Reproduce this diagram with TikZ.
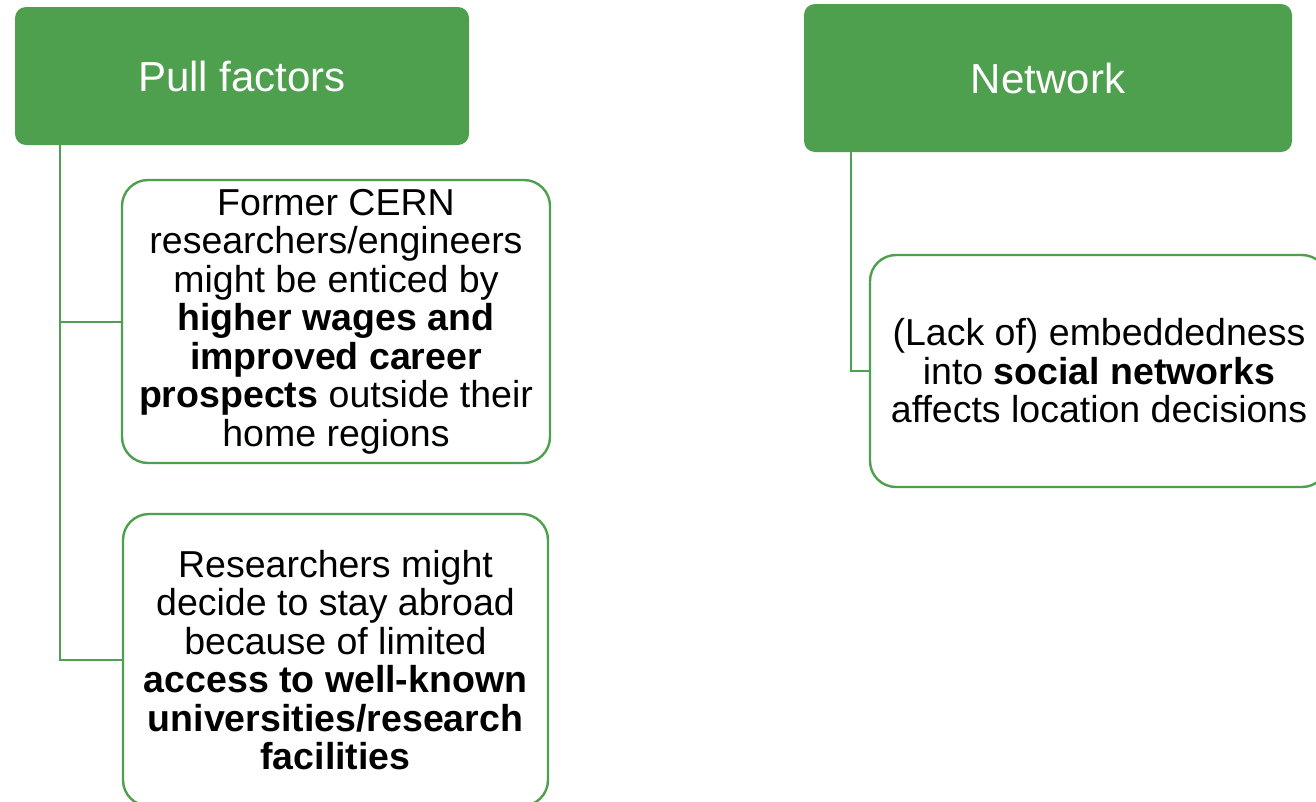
\documentclass[tikz,border=0pt]{standalone}
\usepackage{fontspec}
\setmainfont{Liberation Sans}
\definecolor{grn}{RGB}{79,160,78}
\begin{document}
\begin{tikzpicture}[x=1pt,y=-1pt,
  titlebox/.style={draw=none,fill=grn,rounded corners=11pt,inner sep=0pt,text=white,
    font={\fontsize{42}{46}\selectfont}},
  itembox/.style={draw=grn,line width=2.4pt,fill=white,rounded corners=26pt,inner sep=0pt,
    align=center,font={\fontsize{37.5}{38.5}\selectfont}},
  conn/.style={draw=grn,line width=2pt}]
\useasboundingbox (0,0) rectangle (1316,801);
\clip (0,0) rectangle (1316,801);
% titles
\node[titlebox,minimum width=454pt,minimum height=138pt] (pull) at (242,76) {Pull factors};
\node[titlebox,minimum width=488pt,minimum height=148pt] (net) at (1048,78) {Network};
% item boxes
\node[itembox,minimum width=428pt,minimum height=283pt] (b1) at (336,321.5)
  {Former CERN\\researchers/engineers\\might be enticed by\\\textbf{higher wages and}\\\textbf{improved career}\\\textbf{prospects} outside their\\home regions};
\node[itembox,minimum width=425pt,minimum height=292pt] (b2) at (335.5,660)
  {Researchers might\\decide to stay abroad\\because of limited\\\textbf{access to well-known}\\\textbf{universities/research}\\\textbf{facilities}};
\node[itembox,minimum width=458pt,minimum height=232pt] (b3) at (1099,371)
  {(Lack of) embeddedness\\into \textbf{social networks}\\affects location decisions};
% connectors
\coordinate (v1) at (60,145);
\coordinate (v2) at (851,152);
\draw[conn] (pull.south -| v1) |- (b1.west);
\draw[conn] (pull.south -| v1) |- (b2.west);
\draw[conn] (net.south -| v2) |- (b3.west);
\end{tikzpicture}
\end{document}
